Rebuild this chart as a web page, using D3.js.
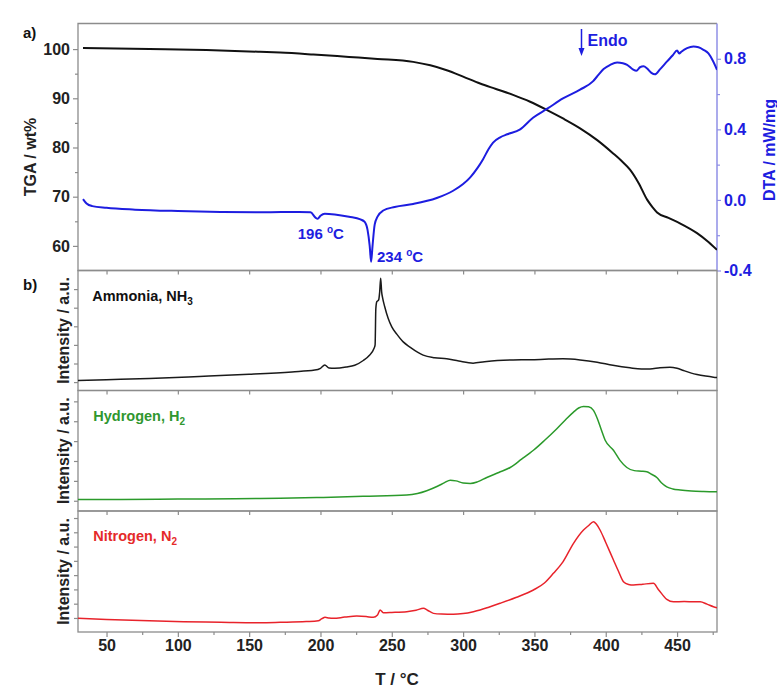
<!DOCTYPE html>
<html><head><meta charset="utf-8">
<script src="https://cdn.jsdelivr.net/npm/d3@7"></script>
<style>
html,body{margin:0;padding:0;background:#fff;}
text{font-family:"Liberation Sans",Arial,sans-serif;font-weight:bold;}
</style>
</head><body>
<svg id="c" width="777" height="691"></svg>
<script>
// ---------------- DATA ----------------
const xDomain = [30, 478];
const xTickValues = [50, 100, 150, 200, 250, 300, 350, 400, 450];
const xMinorTicks = [75, 125, 175, 225, 275, 325, 375, 425, 475];

const tgaDomain = [55, 105.2];
const tgaTicks = [60, 70, 80, 90, 100];
const tgaMinorTicks = [65, 75, 85, 95];
const dtaDomain = [-0.4, 1.0];
const dtaTicks = [-0.4, 0.0, 0.4, 0.8];
const dtaMinorTicks = [-0.2, 0.2, 0.6];

// TGA (T °C, wt%)
const tgaData = [
  [33.5,100.2],[80,100.0],[120,99.8],[157.6,99.45],[171.7,99.3],[195,98.9],[220,98.4],
  [240,98.0],[265,97.4],[277,96.7],[288.5,95.7],[300,94.4],[311.9,93.0],[323,91.9],
  [335,90.7],[347,89.3],[358.9,87.6],[370,85.9],[382,83.9],[394,81.5],[405.2,78.8],
  [411,77.3],[417,75.5],[423,72.8],[429,69.4],[433,67.8],[436,66.8],[444,65.7],
  [452,64.6],[464,62.6],[472,60.8],[478,59.2]
];
// DTA (T °C, mW/mg)
const dtaData = [
  [33.5,0.005],[36,-0.02],[40,-0.035],[50,-0.045],[70,-0.055],[100,-0.063],[130,-0.068],
  [160,-0.07],[185,-0.068],[193,-0.07],[196.5,-0.1],[198,-0.107],[200,-0.09],[203,-0.078],
  [210,-0.082],[220,-0.095],[228,-0.11],[231,-0.125],[233,-0.17],[234.5,-0.26],[235.5,-0.35],
  [236.5,-0.26],[238,-0.14],[240,-0.095],[244,-0.06],[252,-0.04],[265,-0.023],[281.5,0.011],
  [293,0.052],[300,0.09],[305,0.128],[310,0.18],[314,0.231],[318,0.29],[321,0.325],[326,0.355],
  [331,0.372],[340,0.40],[349,0.466],[359,0.517],[370,0.575],[382,0.625],[391,0.672],[395,0.71],
  [398.5,0.742],[403,0.765],[408,0.779],[412,0.775],[415,0.766],[419,0.74],[421.5,0.732],
  [424,0.752],[426.5,0.757],[429,0.745],[432,0.72],[434.5,0.712],[438,0.74],[443,0.785],
  [447,0.82],[450,0.847],[451.5,0.83],[453,0.84],[457,0.86],[461.5,0.869],[465,0.865],
  [468.5,0.851],[472,0.83],[475,0.79],[478,0.738]
];
// MS intensities (T °C, a.u.)
const nh3Data = [
  [30,8.3],[50,9],[80,10],[115,11.7],[150,13.5],[180,15.5],[196,17],[200,18.5],[203,21.2],
  [206,18.8],[210,18.5],[218,19.5],[224,21],[230,25],[234,29],[237.5,35],[238.3,38],
  [238.8,68],[239.5,74],[240.8,75.5],[241.5,82],[242.2,93.5],[242.9,82],[243.6,77],[245,70],
  [247.5,60],[250,53],[253.5,47],[258,40.5],[263,36],[268,32],[272,29.5],[280,27.3],
  [288.5,26.4],[297,24.5],[307,22.8],[315,24],[324,25],[335,25.5],[347,25.6],[360,26.2],
  [370,26.4],[382,25.5],[394,23.6],[405,21],[417,18.9],[425,18],[431,18],[438,19],[445,19.4],
  [450,18.5],[454.5,16.7],[460,14.5],[464,13.3],[470,12],[475.5,11.1],[478,10.8]
];
const h2Data = [
  [30,9.5],[60,9.6],[100,9.9],[140,10.2],[171.7,10.5],[202,11.3],[230,12.2],[260.5,13.2],
  [268,14.5],[274.5,16.8],[282,20.5],[287,23.5],[291,25.6],[295,25],[300,23.3],[305,22.9],
  [310,24.2],[316.6,27.8],[325,32],[333,36.1],[341,43],[349.3,50.4],[357,58.5],[365.7,68.3],
  [372,76],[377.4,82.1],[381,85.5],[384.4,86.8],[388,86.5],[391.4,83.5],[394,77],[397,67],
  [399.6,58.7],[405.4,50.4],[410,42],[414.8,36.1],[420,33.5],[425,33],[428.8,32.5],[432,30.5],
  [435.8,27.8],[439,23.5],[442.8,20.1],[447,18.3],[452.2,17.4],[460,16.6],[468,16.2],
  [475.5,16.0],[478,16.0]
];
const n2Data = [
  [30,11.3],[50,10.3],[80,9.2],[104,8.5],[130,8.1],[157.6,7.7],[171.7,8.0],[190,8.6],
  [198.5,9.3],[201,11],[203.2,12.1],[206,11.5],[209,11.3],[217,12.3],[225.4,13.2],[232,12.8],
  [237,12.1],[240,14],[241.8,18.2],[244,16],[250,16.2],[260.5,16.8],[267,18],[272.2,19.6],
  [275,18],[279.2,15.4],[285,14.8],[293.2,14.6],[300,15.2],[307.2,16.8],[311.9,18.2],
  [318,20.5],[325.9,23.7],[337,28.5],[349.3,34.7],[357,40.5],[363.3,48.5],[370,58],
  [377.4,73.3],[384.4,84.3],[388,88],[391.4,91.2],[393.5,89],[396,84.3],[400,74],[405.4,59.5],
  [409,50],[412.4,41.6],[416,39.3],[419.4,38.8],[426,39.5],[433.4,40.2],[437,35],[442.8,27],
  [447.5,25],[455,25.2],[462,25],[466.2,25],[471,23],[475.5,20.9],[478,20]
];
const nh3Ticks = [7, 22.5, 38, 53.5, 69, 84.5];
const h2Ticks = [8.5, 25, 41.5, 58, 74.5, 91];
const n2Ticks = [11.6, 23.4, 35.2, 47, 58.8, 70.6, 82.4, 94.2];

const gasNames = ["Ammonia, NH", "Hydrogen, H", "Nitrogen, N"];
const gasSubs = ["3", "2", "2"];
const peakLabels = ["196", "234"];

// ---------------- DRAWING ----------------
const svg = d3.select("#c");
svg.append("rect").attr("width",777).attr("height",691).attr("fill","#fff");

const L = 78, R = 717;
const aTop = 23.5, aBot = 270.5;
const sub = [[270.5,390.5],[390.5,511],[511,632]];
const frameCol = "#8c8c8c";
const blue = "#1d1de0";

const x = d3.scaleLinear().domain(xDomain).range([L, R]);
const yTga = d3.scaleLinear().domain(tgaDomain).range([aBot, aTop]);
const yDta = d3.scaleLinear().domain(dtaDomain).range([aBot, aTop]);

const defs = svg.append("defs");
function clip(id, y0, y1){
  defs.append("clipPath").attr("id", id).append("rect")
    .attr("x", L).attr("y", y0).attr("width", R-L).attr("height", y1-y0);
}
clip("ca", aTop, aBot);
sub.forEach((s,i)=>clip("cb"+i, s[0], s[1]));

function styleAxis(g, col, textCol, size){
  g.select(".domain").remove();
  g.selectAll(".tick line").attr("stroke", col).attr("stroke-width", 1.2);
  g.selectAll(".tick text").attr("fill", textCol).attr("font-size", size)
    .attr("font-family","Liberation Sans, Arial, sans-serif").attr("font-weight","bold");
}

// ---- panel a ----
const ga = svg.append("g");
styleAxis(ga.append("g").attr("transform",`translate(${L},0)`)
  .call(d3.axisLeft(yTga).tickValues(tgaTicks).tickSize(5).tickPadding(3)), frameCol, "#222", 16);
styleAxis(ga.append("g").attr("transform",`translate(${L},0)`)
  .call(d3.axisLeft(yTga).tickValues(tgaMinorTicks).tickSize(3).tickFormat("")), frameCol, "#222", 16);
styleAxis(ga.append("g").attr("transform",`translate(${R},0)`)
  .call(d3.axisRight(yDta).tickValues(dtaTicks).tickSize(4).tickPadding(3).tickFormat(d=>d.toFixed(1))), "#8f8fe6", blue, 16);
styleAxis(ga.append("g").attr("transform",`translate(${R},0)`)
  .call(d3.axisRight(yDta).tickValues(dtaMinorTicks).tickSize(3).tickFormat("")), "#8f8fe6", blue, 16);

ga.append("path").attr("d",`M${R},${aTop}H${L}V${aBot}H${R}`).attr("fill","none")
  .attr("stroke", frameCol).attr("stroke-width",1.3);
ga.append("line").attr("x1",R).attr("x2",R).attr("y1",aTop).attr("y2",aBot)
  .attr("stroke","#8f8fe6").attr("stroke-width",1.5);

const lineTga = d3.line().x(d=>x(d[0])).y(d=>yTga(d[1])).curve(d3.curveMonotoneX);
const lineDta = d3.line().x(d=>x(d[0])).y(d=>yDta(d[1])).curve(d3.curveMonotoneX);
ga.append("path").datum(tgaData).attr("d", lineTga).attr("fill","none")
  .attr("stroke","#111").attr("stroke-width",2).attr("clip-path","url(#ca)");
ga.append("path").datum(dtaData).attr("d", lineDta).attr("fill","none")
  .attr("stroke",blue).attr("stroke-width",2).attr("clip-path","url(#ca)");

// axis titles panel a
svg.append("text").attr("transform","translate(36,157) rotate(-90)").attr("text-anchor","middle")
  .attr("font-size",16).attr("fill","#222").text("TGA / wt%");
svg.append("text").attr("transform","translate(775,150) rotate(-90)").attr("text-anchor","middle")
  .attr("font-size",16).attr("fill",blue).text("DTA / mW/mg");

// panel labels
svg.append("text").attr("x",23).attr("y",38).attr("font-size",15).attr("fill","#111").text("a)");
svg.append("text").attr("x",23).attr("y",290).attr("font-size",15).attr("fill","#111").text("b)");

// peak annotations
function degLabel(xp, yp, num){
  const t = svg.append("text").attr("x",xp).attr("y",yp).attr("font-size",15).attr("fill",blue);
  t.append("tspan").text(num+" ");
  t.append("tspan").attr("font-size",10).attr("dy",-6).text("o");
  t.append("tspan").attr("dy",6).text("C");
}
degLabel(x(196)-17, 239, peakLabels[0]);
degLabel(x(234)+8, 262, peakLabels[1]);

// Endo arrow
const ax = x(383);
svg.append("line").attr("x1",ax).attr("x2",ax).attr("y1",29).attr("y2",49).attr("stroke",blue).attr("stroke-width",1.5);
svg.append("path").attr("d",`M${ax-3},${48}L${ax+3},${48}L${ax},${56}Z`).attr("fill",blue);
svg.append("text").attr("x",ax+6).attr("y",46).attr("font-size",16).attr("fill",blue).text("Endo");

// ---- panel b ----
const gasData = [nh3Data, h2Data, n2Data];
const gasTicks = [nh3Ticks, h2Ticks, n2Ticks];
const gasCols = ["#1a1a1a", "#2b9a2b", "#e8232b"];
const gasTextCols = ["#111", "#2f972f", "#e52a2a"];

sub.forEach((s,i)=>{
  const y = d3.scaleLinear().domain([0,100]).range([s[1], s[0]]);
  const g = svg.append("g");
  // top inward ticks
  styleAxis(g.append("g").attr("transform",`translate(0,${s[0]})`)
    .call(d3.axisBottom(x).tickValues(xTickValues).tickSize(4).tickFormat("")), frameCol, "#222", 16);
  // left ticks
  styleAxis(g.append("g").attr("transform",`translate(${L},0)`)
    .call(d3.axisLeft(y).tickValues(gasTicks[i]).tickSize(4).tickFormat("")), frameCol, "#222", 16);
  g.append("rect").attr("x",L).attr("y",s[0]).attr("width",R-L).attr("height",s[1]-s[0])
    .attr("fill","none").attr("stroke",frameCol).attr("stroke-width",1.3);
  const ln = d3.line().x(d=>x(d[0])).y(d=>y(d[1])).curve(d3.curveMonotoneX);
  g.append("path").datum(gasData[i]).attr("d", ln).attr("fill","none")
    .attr("stroke",gasCols[i]).attr("stroke-width",1.5).attr("clip-path",`url(#cb${i})`);
  const t = g.append("text").attr("x",x(40)+ (i===0?0:1)).attr("y",s[0]+30).attr("font-size",14.5)
    .attr("fill",gasTextCols[i]);
  t.append("tspan").text(gasNames[i]);
  t.append("tspan").attr("font-size",10).attr("dy",4).text(gasSubs[i]);
  svg.append("text").attr("transform",`translate(69,${(s[0]+s[1])/2}) rotate(-90)`)
    .attr("text-anchor","middle").attr("font-size",16).attr("fill","#222").text("Intensity / a.u.");
});

// bottom axis
const bot = sub[2][1];
styleAxis(svg.append("g").attr("transform",`translate(0,${bot})`)
  .call(d3.axisBottom(x).tickValues(xTickValues).tickSize(5).tickPadding(3)), frameCol, "#222", 16);
styleAxis(svg.append("g").attr("transform",`translate(0,${bot})`)
  .call(d3.axisBottom(x).tickValues(xMinorTicks).tickSize(3).tickFormat("")), frameCol, "#222", 16);
svg.append("text").attr("x",397).attr("y",685).attr("text-anchor","middle").attr("font-size",17)
  .attr("fill","#222").text("T / °C");
</script>
</body></html>
